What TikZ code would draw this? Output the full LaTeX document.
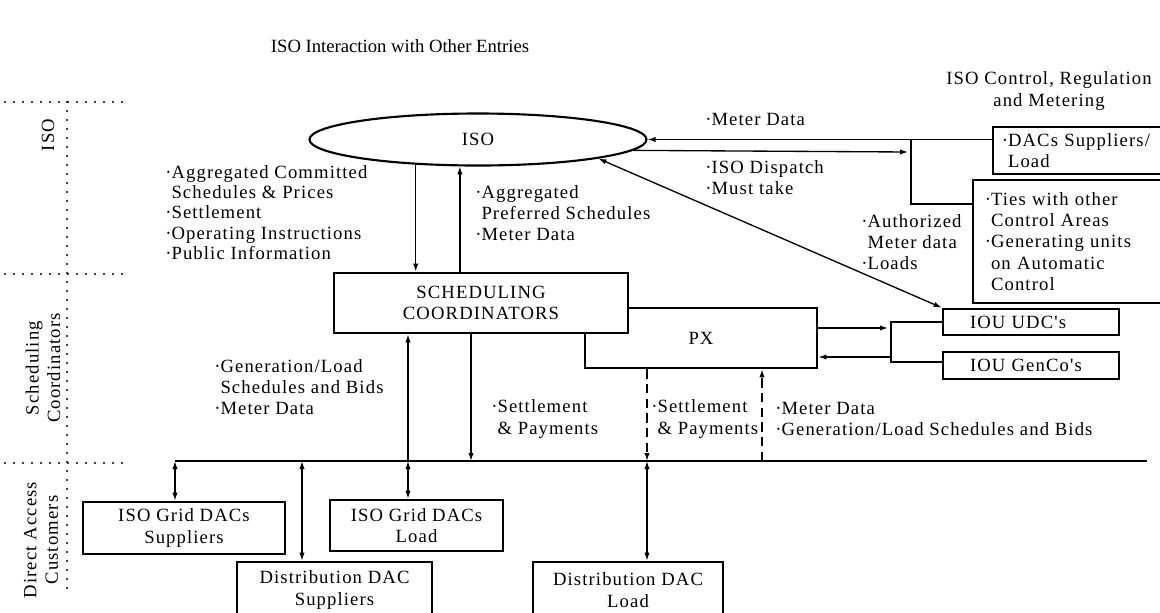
\documentclass[tikz,border=0pt]{standalone}
\usepackage{fontspec}
\setmainfont{Liberation Serif}
\newfontfamily\spacedfont[LetterSpace=6]{Liberation Serif}
\usetikzlibrary{shapes.geometric,arrows.meta}
\newcommand{\dotb}{\leavevmode\llap{·}}
\tikzset{every picture/.style={line width=0.75pt}}
\tikzset{
  txt/.style={font=\spacedfont\fontsize{14}{16}\selectfont},
  lbl/.style={txt, anchor=west, align=left, inner sep=0pt},
  box/.style={txt, draw, line width=2pt, fill=white, inner sep=0pt, align=center},
  lbox/.style={box, align=left},
  conn/.style={line width=1pt},
  regline/.style={line width=1.6pt, line cap=round, dash pattern=on 0pt off 6.75pt},
}

\begin{document}
\begin{tikzpicture}[x=0.75pt,y=0.75pt,yscale=-1,xscale=1,>={Latex[length=6pt,width=4pt]}]
	\useasboundingbox (0,0) rectangle (1160,612);
	\clip (0,0) rectangle (1160,612);

	% Text Node
	\node[font=\fontsize{14}{16}\selectfont] (title) at (400,46) {ISO Interaction with Other Entries};

	%Dotted Lines
	\draw[regline] (5,102) -- (127,102);
	\draw[regline] (5,274) -- (127,274);
	\draw[regline] (5,463) -- (127,463);
	\draw[regline] (67,102) -- (67,592);
	% Text Node
	\node[txt, rotate=90] (regiso) at (48,135) {ISO};
	% Text Node
	\node[txt, rotate=90, align=center] (regsc) at (43,368) {Scheduling\\Coordinators};
	% Text Node
	\node[txt, rotate=90, align=center] (regdac) at (41,540) {Direct Access\\Customers};

	%Shape: Ellipse
	\node[txt, draw, ellipse, line width=1.6pt, inner sep=0pt, minimum width=252.75pt, minimum height=39pt] (iso) at (478,139.5) {ISO};
	%Shape: Rectangle
	\node[box, minimum width=174pt, minimum height=45pt] (px) at (701,338) {PX};
	%Shape: Rectangle
	\node[box, minimum width=220.5pt, minimum height=45pt] (sc) at (481,303) {SCHEDULING\\COORDINATORS};
	%Shape: Rectangle
	\node[lbox, text width=114pt, inner xsep=11.25pt, minimum height=35.25pt] (dacs) at (1084,150.5) {\dotb DACs Suppliers/\\Load};
	%Shape: Rectangle
	\node[lbox, text width=124.5pt, inner xsep=13.5pt, minimum height=92.25pt] (ties) at (1074,241.5) {\dotb Ties with other\\Control Areas\\\dotb Generating units\\on Automatic\\Control};
	%Shape: Rectangle
	\node[lbox, text width=91.5pt, inner xsep=20.25pt, minimum height=19.5pt] (udc) at (1031,322) {IOU UDC's};
	%Shape: Rectangle
	\node[lbox, text width=91.5pt, inner xsep=20.25pt, minimum height=20.25pt] (gen) at (1031,365.5) {IOU GenCo's};
	%Shape: Rectangle
	\node[box, minimum width=151.5pt, minimum height=39pt] (gsup) at (184,528) {ISO Grid DACs\\Suppliers};
	%Shape: Rectangle
	\node[box, minimum width=129.75pt, minimum height=38.25pt] (gload) at (416.5,525.5) {ISO Grid DACs\\Load};
	%Shape: Rectangle
	\node[box, minimum width=146.25pt, minimum height=42pt] (dsup) at (334.5,590) {Distribution DAC\\Suppliers};
	%Shape: Rectangle
	\node[box, minimum width=142.5pt, minimum height=42pt] (dload) at (628,590) {Distribution DAC\\Load};

	%ISO side connectors
	\coordinate (mj) at (911,139.5);
	\coordinate (tj) at (911,204);
	\coordinate (dsp) at (908,152);
	\draw[conn,->] (dacs.west |- mj) -- (iso.east);
	\draw[conn] (mj) -- (tj) -- (tj -| ties.west);
	\draw[conn,->] (iso.-4.8) -- (dsp);
	\draw[conn,<->] (iso.-9) -- (udc.north west);
	\draw[conn,->] (iso.-158.7) -- (iso.-158.7 |- sc.north);
	\draw[conn,->] (iso.-124.9 |- sc.north) -- (iso.-124.9);

	%PX to IOU
	\coordinate (pa) at (888,328);
	\coordinate (pb) at (891,357);
	\coordinate (ju) at (891,322);
	\coordinate (jg) at (891,362);
	\draw[conn,->] (pa -| px.east) -- (pa);
	\draw[conn,->] (pb) -- (pb -| px.east);
	\draw[conn] (udc.west) -- (ju) -- (jg) -- (jg -| gen.west);

	%Bus
	\coordinate (busL) at (175,461);
	\coordinate (busR) at (1147,461);
	\coordinate (b2) at (302,461);
	\coordinate (b3) at (408,461);
	\coordinate (b4) at (471,461);
	\coordinate (b5) at (647,461);
	\coordinate (b6) at (762,461);
	\draw[line width=1.2pt] (busL) -- (busR);
	\draw[conn,<->] (busL) -- (busL |- gsup.north);
	\draw[conn,<->] (b2) -- (b2 |- dsup.north);
	\draw[conn,->] (b3) -- (b3 |- sc.south);
	\draw[conn,<->] (b3) -- (b3 |- gload.north);
	\draw[conn,->] (b4 |- sc.south) -- (b4);
	\draw[conn,->,dashed,dash pattern=on 7pt off 4pt] (b5 |- px.south) -- (b5);
	\draw[conn,<->] (b5) -- (b5 |- dload.north);
	\draw[conn,->,dashed,dash pattern=on 7pt off 4pt] (b6) -- (b6 |- px.south);

	% Text Node
	\node[txt, align=center] (ctrl) at (1049,91) {ISO Control, Regulation\\and Metering};
	% Text Node
	\node[lbl] (mdata) at (711,119) {\dotb Meter Data};
	% Text Node
	\node[lbl] (dispatch) at (711,177.5) {\dotb ISO Dispatch\\\dotb Must take};
	% Text Node
	\node[lbl] (auth) at (867,242) {\dotb Authorized\\Meter data\\\dotb Loads};
	% Text Node
	\node[lbl, font=\spacedfont\fontsize{14}{15.2}\selectfont] (committed) at (171,212.5) {\dotb Aggregated Committed\\Schedules \& Prices\\\dotb Settlement\\\dotb Operating Instructions\\\dotb Public Information};
	% Text Node
	\node[lbl] (preferred) at (481,213) {\dotb Aggregated\\Preferred Schedules\\\dotb Meter Data};
	% Text Node
	\node[lbl] (genload) at (220,387) {\dotb Generation/Load\\Schedules and Bids\\\dotb Meter Data};
	% Text Node
	\node[lbl] (settle) at (497,419) {\dotb Settlement\\\& Payments};
	% Text Node
	\node[lbl] (pxsettle) at (657,419) {\dotb Settlement\\\& Payments};
	% Text Node
	\node[lbl] (pxbids) at (781,419) {\dotb Meter Data\\\dotb Generation/Load Schedules and Bids};

\end{tikzpicture}
\end{document}
